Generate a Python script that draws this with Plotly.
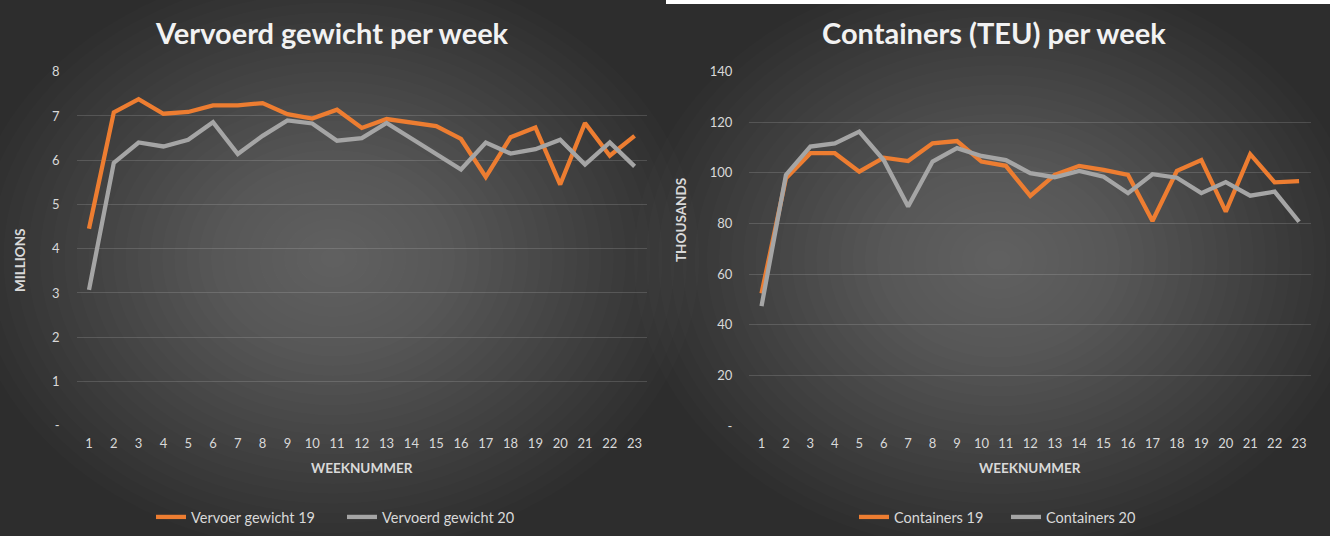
import plotly.graph_objects as go

weeks = list(range(1, 24))
gewicht_19 = [4.45, 7.08, 7.38, 7.05, 7.09, 7.24, 7.24, 7.29, 7.04, 6.94, 7.14, 6.73,
              6.93, 6.84, 6.77, 6.48, 5.62, 6.52, 6.74, 5.45, 6.84, 6.10, 6.55]
gewicht_20 = [3.07, 5.94, 6.40, 6.31, 6.46, 6.86, 6.14, 6.55, 6.90, 6.83, 6.44, 6.50,
              6.84, 6.49, 6.14, 5.79, 6.40, 6.15, 6.25, 6.46, 5.90, 6.40, 5.86]
containers_19 = [52.4, 97.9, 107.8, 107.8, 100.5, 106.0, 104.7, 111.7, 112.6, 104.5, 102.8, 90.9,
                 99.2, 102.8, 101.2, 99.2, 81.0, 100.8, 105.1, 84.7, 107.4, 96.3, 96.8]
containers_20 = [47.4, 99.2, 110.4, 111.7, 116.3, 105.1, 86.7, 104.5, 109.8, 106.7, 105.1, 99.9,
                 98.3, 100.8, 98.5, 92.0, 99.5, 98.1, 92.0, 96.4, 91.0, 92.6, 80.7]
left_yticks = [0, 1, 2, 3, 4, 5, 6, 7, 8]
left_yticktext = ["-", "1", "2", "3", "4", "5", "6", "7", "8"]
right_yticks = [0, 20, 40, 60, 80, 100, 120, 140]
right_yticktext = ["-", "20", "40", "60", "80", "100", "120", "140"]

W, H = 1330, 536
ORANGE = "#ED7D31"
GRAY = "#A5A5A5"
TXT = "#D9D9D9"
FONT = "Lato"

def px(x):
    return x / W

def py(y):
    return 1 - y / H

fig = go.Figure()
fig.add_trace(go.Scatter(x=weeks, y=gewicht_19, mode="lines", name="Vervoer gewicht 19",
                         line=dict(color=ORANGE, width=4.3), xaxis="x", yaxis="y", legend="legend"))
fig.add_trace(go.Scatter(x=weeks, y=gewicht_20, mode="lines", name="Vervoerd gewicht 20",
                         line=dict(color=GRAY, width=4.3), xaxis="x", yaxis="y", legend="legend"))
fig.add_trace(go.Scatter(x=weeks, y=containers_19, mode="lines", name="Containers 19",
                         line=dict(color=ORANGE, width=4.3), xaxis="x2", yaxis="y2", legend="legend2"))
fig.add_trace(go.Scatter(x=weeks, y=containers_20, mode="lines", name="Containers 20",
                         line=dict(color=GRAY, width=4.3), xaxis="x2", yaxis="y2", legend="legend2"))

# background vignette per panel
shapes = []
panels = [(0, 666, 0, 536), (667, 1330, 4, 536)]
shapes.append(dict(type="rect", xref="paper", yref="paper", x0=px(666), x1=1, y0=py(4), y1=1,
                   fillcolor="white", line=dict(width=0), layer="below"))
N = 30
for (x0, x1, y0, y1) in panels:
    cx, cy = (x0 + x1) / 2, (y0 + y1) / 2 - 10
    rx0, ry0 = (x1 - x0) / 2 * 1.1, (y1 - y0) / 2 * 1.1
    for k in range(N):
        f = 1 - k / N
        shapes.append(dict(type="circle", xref="paper", yref="paper",
                           x0=px(cx - rx0 * f), x1=px(cx + rx0 * f),
                           y0=py(cy + ry0 * f), y1=py(cy - ry0 * f),
                           fillcolor="rgba(255,255,255,0.0105)", line=dict(width=0), layer="below"))

axis_common = dict(showline=False, zeroline=False, ticks="", automargin=False,
                   tickfont=dict(family=FONT, size=13, color=TXT))
fig.update_layout(
    width=W, height=H,
    margin=dict(l=0, r=0, t=0, b=0, autoexpand=False),
    paper_bgcolor="#2D2D2D", plot_bgcolor="rgba(0,0,0,0)",
    showlegend=True,
    shapes=shapes,
    xaxis=dict(domain=[px(76.6), px(647)], range=[0.5, 23.5], tickvals=weeks,
               showgrid=False, ticklabelstandoff=8, **axis_common),
    yaxis=dict(domain=[py(425.7), py(71.7)], range=[0, 8], tickvals=left_yticks,
               ticktext=left_yticktext, showgrid=True, gridcolor="rgba(217,217,217,0.18)",
               gridwidth=1, ticklabelstandoff=16, **axis_common),
    xaxis2=dict(domain=[px(749.3), px(1311.3)], range=[0.5, 23.5], tickvals=weeks,
                showgrid=False, ticklabelstandoff=8, anchor="y2", **axis_common),
    yaxis2=dict(domain=[py(426), py(71.7)], range=[0, 140], tickvals=right_yticks,
                ticktext=right_yticktext, showgrid=True, gridcolor="rgba(217,217,217,0.18)",
                gridwidth=1, ticklabelstandoff=16, anchor="x2", **axis_common),
    legend=dict(orientation="h", x=px(151), xanchor="left", y=py(517), yanchor="middle",
                bgcolor="rgba(0,0,0,0)", font=dict(family=FONT, size=14.5, color=TXT),
                entrywidth=146, entrywidthmode="pixels"),
    legend2=dict(orientation="h", x=px(854), xanchor="left", y=py(517), yanchor="middle",
                 bgcolor="rgba(0,0,0,0)", font=dict(family=FONT, size=14.5, color=TXT),
                 entrywidth=107, entrywidthmode="pixels"),
    annotations=[
        dict(text="<b>Vervoerd gewicht per week</b>", x=px(332), y=py(33), xref="paper", yref="paper",
             showarrow=False, xanchor="center", yanchor="middle",
             font=dict(family=FONT, size=29, color="#F2F2F2")),
        dict(text="<b>Containers (TEU) per week</b>", x=px(994), y=py(33), xref="paper", yref="paper",
             showarrow=False, xanchor="center", yanchor="middle",
             font=dict(family=FONT, size=29, color="#F2F2F2")),
        dict(text="<b>WEEKNUMMER</b>", x=px(362), y=py(468), xref="paper", yref="paper",
             showarrow=False, xanchor="center", yanchor="middle",
             font=dict(family=FONT, size=13.5, color=TXT)),
        dict(text="<b>WEEKNUMMER</b>", x=px(1030), y=py(468), xref="paper", yref="paper",
             showarrow=False, xanchor="center", yanchor="middle",
             font=dict(family=FONT, size=13.5, color=TXT)),
        dict(text="<b>MILLIONS</b>", x=px(20), y=py(260), xref="paper", yref="paper",
             showarrow=False, xanchor="center", yanchor="middle", textangle=-90,
             font=dict(family=FONT, size=13.5, color=TXT)),
        dict(text="<b>THOUSANDS</b>", x=px(681), y=py(220), xref="paper", yref="paper",
             showarrow=False, xanchor="center", yanchor="middle", textangle=-90,
             font=dict(family=FONT, size=13.5, color=TXT)),
    ],
)

post = ("document.body.style.margin='0';document.body.style.overflow='hidden';"
        "var gd=document.getElementById('{plot_id}');gd.style.position='absolute';"
        "gd.style.left='0px';gd.style.top='0px';")
fig.write_html("out.html", post_script=post, config={"displayModeBar": False})
